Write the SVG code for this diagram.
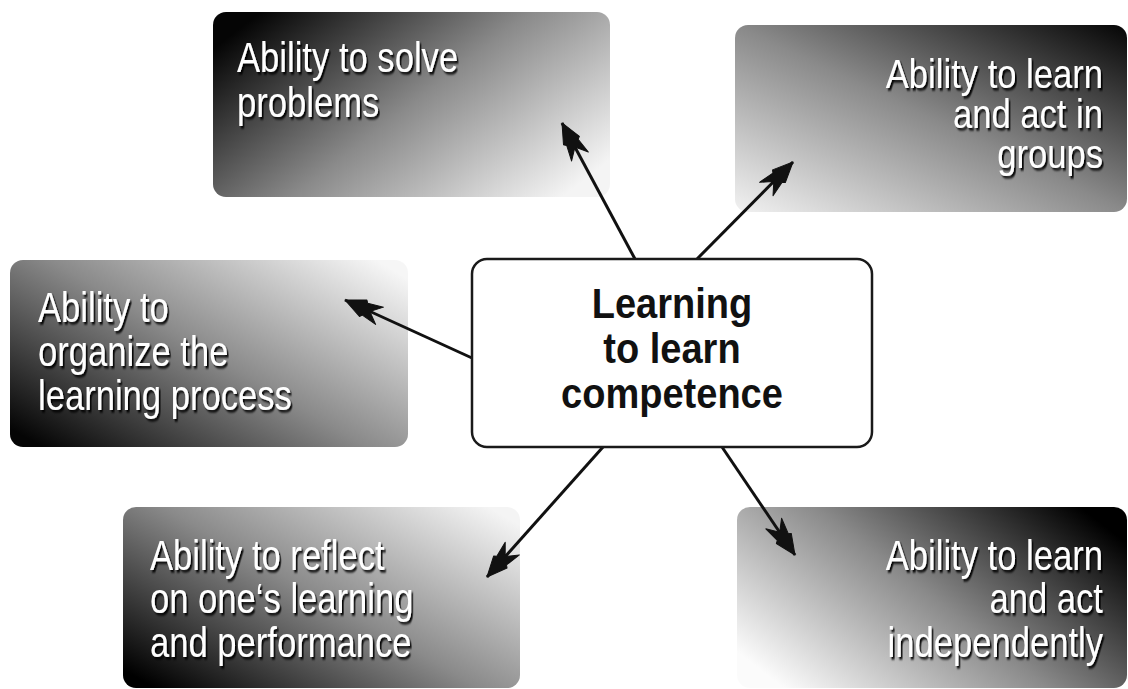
<svg xmlns="http://www.w3.org/2000/svg" width="1128" height="689" viewBox="0 0 1128 689">
<style>
.lbl{font-family:"Liberation Sans",Arial,sans-serif;font-size:42px;fill:#ffffff;filter:url(#shadow)}
.lbl2{font-size:40px}
.ctr{font-family:"Liberation Sans",Arial,sans-serif;font-size:42px;font-weight:bold;fill:#111111}
.conn{stroke:#111111;stroke-width:3;fill:none;marker-end:url(#dart)}
.head{fill:#111111;stroke:#111111;stroke-width:1;stroke-linejoin:round}
</style>
<defs>
<filter id="shadow" x="-10%" y="-20%" width="130%" height="150%">
<feDropShadow dx="2" dy="2.5" stdDeviation="0.8" flood-color="#000000" flood-opacity="0.95"/>
</filter>
<linearGradient id="g1" x1="0" y1="0.2" x2="1" y2="0.8">
<stop offset="0" stop-color="#050505"/><stop offset="0.5" stop-color="#8a8a8a"/><stop offset="1" stop-color="#f4f4f4"/>
</linearGradient>
<linearGradient id="g2" x1="0" y1="1" x2="1" y2="0">
<stop offset="0" stop-color="#f2f2f2"/><stop offset="0.5" stop-color="#8a8a8a"/><stop offset="1" stop-color="#050505"/>
</linearGradient>
<linearGradient id="g3" x1="0" y1="0.9" x2="1" y2="0.1">
<stop offset="0" stop-color="#050505"/><stop offset="0.5" stop-color="#8a8a8a"/><stop offset="1" stop-color="#f6f6f6"/>
</linearGradient>
<linearGradient id="g4" x1="0" y1="0.9" x2="1" y2="0.1">
<stop offset="0" stop-color="#000000"/><stop offset="0.5" stop-color="#8a8a8a"/><stop offset="1" stop-color="#f4f4f4"/>
</linearGradient>
<linearGradient id="g5" x1="0" y1="0.8" x2="1" y2="0.2">
<stop offset="0" stop-color="#fbfbfb"/><stop offset="0.5" stop-color="#8a8a8a"/><stop offset="1" stop-color="#000000"/>
</linearGradient>
<marker id="dart" markerUnits="userSpaceOnUse" viewBox="-44 -14 48 28" refX="0" refY="0" markerWidth="48" markerHeight="28" orient="auto" overflow="visible">
<path class="head" d="M0,0 L-20,-9 L-22,-6.5 L-38,-9.5 L-29,-1.5 L-29,1.5 L-38,9.5 L-22,6.5 L-20,9 Z"/>
</marker>
</defs>
<rect width="1128" height="689" fill="#ffffff"/>

<g id="node-solve">
<rect x="213" y="12" width="397" height="185" rx="13" fill="url(#g1)"/>
<text class="lbl" transform="translate(237 72) scale(0.824 1)"><tspan x="0" y="0">Ability to solve</tspan><tspan x="0" y="45">problems</tspan></text>
</g>
<g id="node-groups">
<rect x="735" y="25" width="392" height="187" rx="13" fill="url(#g2)"/>
<text class="lbl lbl2" text-anchor="end" transform="translate(1103 88) scale(0.865 1)"><tspan x="0" y="0">Ability to learn</tspan><tspan x="0" y="40">and act in</tspan><tspan x="0" y="80">groups</tspan></text>
</g>
<g id="node-organize">
<rect x="10" y="260" width="398" height="187" rx="13" fill="url(#g3)"/>
<text class="lbl" transform="translate(38 322) scale(0.824 1)"><tspan x="0" y="0">Ability to</tspan><tspan x="0" y="44">organize the</tspan><tspan x="0" y="88">learning process</tspan></text>
</g>
<g id="node-reflect">
<rect x="123" y="507" width="397" height="181" rx="13" fill="url(#g4)"/>
<text class="lbl" transform="translate(150 570) scale(0.824 1)"><tspan x="0" y="0">Ability to reflect</tspan><tspan x="0" y="43.5">on one‘s learning</tspan><tspan x="0" y="87">and performance</tspan></text>
</g>
<g id="node-independent">
<rect x="737" y="507" width="390" height="181" rx="13" fill="url(#g5)"/>
<text class="lbl" text-anchor="end" transform="translate(1103 570) scale(0.824 1)"><tspan x="0" y="0">Ability to learn</tspan><tspan x="0" y="43.5">and act</tspan><tspan x="0" y="87">independently</tspan></text>
</g>

<g id="connectors">
<line class="conn" x1="635" y1="259" x2="562" y2="123"/>
<line class="conn" x1="697" y1="259" x2="793" y2="162"/>
<line class="conn" x1="472" y1="358" x2="345" y2="300"/>
<line class="conn" x1="603" y1="447" x2="487" y2="577"/>
<line class="conn" x1="722" y1="447" x2="795" y2="555"/>
</g>

<g id="node-center">
<rect x="472" y="259" width="400" height="188" rx="15" fill="#ffffff" stroke="#1a1a1a" stroke-width="2.5"/>
<text class="ctr" text-anchor="middle" transform="translate(672 318) scale(0.905 1)"><tspan x="0" y="0">Learning</tspan><tspan x="0" y="45">to learn</tspan><tspan x="0" y="90">competence</tspan></text>
</g>
</svg>
